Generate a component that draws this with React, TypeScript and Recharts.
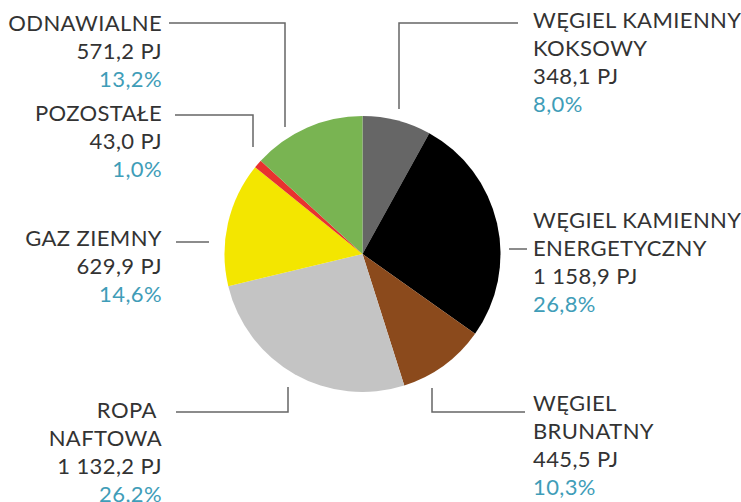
import { PieChart, Pie, Cell } from "recharts";

const names = [
  ["WĘGIEL KAMIENNY", "KOKSOWY"],
  ["WĘGIEL KAMIENNY", "ENERGETYCZNY"],
  ["WĘGIEL", "BRUNATNY"],
  ["ROPA\u00A0", "NAFTOWA"],
  ["GAZ ZIEMNY"],
  ["POZOSTAŁE"],
  ["ODNAWIALNE"],
];
const valuesPJ = [348.1, 1158.9, 445.5, 1132.2, 629.9, 43.0, 571.2];
const shares = [8.0, 26.8, 10.3, 26.2, 14.6, 1.0, 13.2];
const colors = ["#666666", "#000000", "#8b4a1c", "#c4c4c4", "#f3e600", "#e8322f", "#79b452"];

const data = names.map((n, i) => ({ name: n.join(" "), value: valuesPJ[i] }));

// label placement: text anchor point + leader polyline
const labelLayout = [
  { x: 533, y: 28, anchor: "start", line: [[518, 23], [399, 23], [399, 109]] },
  { x: 533, y: 228, anchor: "start", line: [[527, 249], [509, 249]] },
  { x: 533, y: 411, anchor: "start", line: [[525, 412], [432, 412], [432, 388]] },
  { x: 162, y: 418, anchor: "end", line: [[176, 412], [288, 412], [288, 387]] },
  { x: 162, y: 246, anchor: "end", line: [[176, 242], [209, 242]] },
  { x: 162, y: 121, anchor: "end", line: [[175, 115], [253, 115], [253, 147]] },
  { x: 162, y: 31, anchor: "end", line: [[169, 23], [285, 23], [285, 127]] },
];

const fmtPJ = (v: number) => {
  const [int, dec] = v.toFixed(1).split(".");
  return int.replace(/\B(?=(\d{3})+(?!\d))/g, " ") + "," + dec + " PJ";
};
const fmtShare = (v: number) => v.toFixed(1).replace(".", ",") + "%";

const LINE_H = 28;

const renderLabel = (props: any) => {
  const i = props.index;
  const l = labelLayout[i];
  const lines = [...names[i], fmtPJ(valuesPJ[i])];
  return (
    <g key={`lbl-${i}`}>
      <polyline
        points={l.line.map((p) => p.join(",")).join(" ")}
        fill="none"
        stroke="#666"
        strokeWidth={1.5}
      />
      <text textAnchor={l.anchor} fontFamily="Lato" fontSize={22} letterSpacing={0.4}>
        {lines.map((t, k) => (
          <tspan key={k} x={l.x} y={l.y + k * LINE_H} fill="#333">
            {t}
          </tspan>
        ))}
        <tspan x={l.x} y={l.y + lines.length * LINE_H} fill="#3f9db8">
          {fmtShare(shares[i])}
        </tspan>
      </text>
    </g>
  );
};

export default function App() {
  return (
    <div style={{ position: "absolute", left: 0, top: 0, background: "#fff" }}>
      <PieChart width={741} height={502} margin={{ top: 0, right: 0, bottom: 0, left: 0 }}>
        <Pie
          data={data}
          dataKey="value"
          cx={362.5}
          cy={254}
          outerRadius={138}
          startAngle={90}
          endAngle={-270}
          stroke="none"
          label={renderLabel}
          labelLine={false}
          isAnimationActive={false}
        >
          {data.map((d, i) => (
            <Cell key={d.name} fill={colors[i]} />
          ))}
        </Pie>
      </PieChart>
    </div>
  );
}
